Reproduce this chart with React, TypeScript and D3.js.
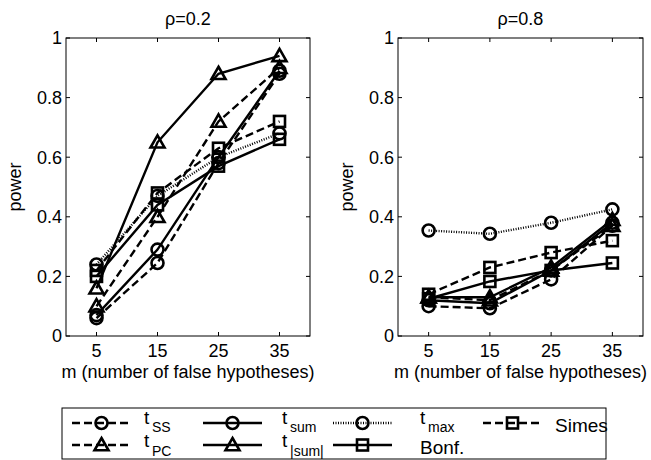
import React, { useRef, useEffect } from "react";
import * as d3 from "d3";

// m values on the x axis
const mValues = [5, 15, 25, 35];
const xTicks = [5, 15, 25, 35];
const yTicks = [0, 0.2, 0.4, 0.6, 0.8, 1];
const yTickLabels = ["0", "0.2", "0.4", "0.6", "0.8", "1"];
const panelTitles = ["ρ=0.2", "ρ=0.8"];

// power, rho = 0.2
const tSS02 = [0.06, 0.245, 0.58, 0.88];
const tPC02 = [0.1, 0.4, 0.72, 0.9];
const tSum02 = [0.07, 0.29, 0.6, 0.89];
const tAbsSum02 = [0.16, 0.65, 0.88, 0.94];
const tMax02 = [0.24, 0.47, 0.6, 0.68];
const bonf02 = [0.2, 0.44, 0.57, 0.66];
const simes02 = [0.22, 0.48, 0.63, 0.72];

// power, rho = 0.8
const tSS08 = [0.1, 0.093, 0.19, 0.37];
const tPC08 = [0.13, 0.12, 0.22, 0.37];
const tSum08 = [0.12, 0.11, 0.22, 0.38];
const tAbsSum08 = [0.13, 0.13, 0.23, 0.39];
const tMax08 = [0.354, 0.343, 0.38, 0.425];
const bonf08 = [0.125, 0.183, 0.22, 0.245];
const simes08 = [0.14, 0.23, 0.28, 0.32];

type Series = {
  t: string;
  sub: string;
  dash: string;
  marker: string;
  left: number[];
  right: number[];
};

const series: Series[] = [
  { t: "t", sub: "SS", dash: "8,4", marker: "circle", left: tSS02, right: tSS08 },
  { t: "t", sub: "PC", dash: "8,4", marker: "triangle", left: tPC02, right: tPC08 },
  { t: "t", sub: "sum", dash: "", marker: "circle", left: tSum02, right: tSum08 },
  { t: "t", sub: "|sum|", dash: "", marker: "triangle", left: tAbsSum02, right: tAbsSum08 },
  { t: "t", sub: "max", dash: "1,1.5", marker: "circle", left: tMax02, right: tMax08 },
  { t: "Bonf.", sub: "", dash: "", marker: "square", left: bonf02, right: bonf08 },
  { t: "Simes", sub: "", dash: "8,4", marker: "square", left: simes02, right: simes08 },
];

const FONT = "'Liberation Sans', Arial, Helvetica, sans-serif";

const drawMarker = (g: any, kind: string, x: number, y: number) => {
  if (kind === "circle") {
    g.append("circle").attr("cx", x).attr("cy", y).attr("r", 6)
      .attr("fill", "none").attr("stroke", "#000").attr("stroke-width", 2.6);
  } else if (kind === "square") {
    g.append("rect").attr("x", x - 5.5).attr("y", y - 5.5).attr("width", 11).attr("height", 11)
      .attr("fill", "none").attr("stroke", "#000").attr("stroke-width", 2.6);
  } else {
    const s = 7;
    g.append("path")
      .attr("d", `M${x},${y - s}L${x + s},${y + s * 0.75}L${x - s},${y + s * 0.75}Z`)
      .attr("fill", "none").attr("stroke", "#000").attr("stroke-width", 2.6);
  }
};

const App = () => {
  const ref = useRef<SVGSVGElement>(null);

  useEffect(() => {
    const svg = d3.select(ref.current);
    svg.selectAll("*").remove();

    const panels = [
      { left: 66, right: 310, key: "left" },
      { left: 398, right: 643, key: "right" },
    ];
    const top = 38;
    const bottom = 336;

    panels.forEach((p, pi) => {
      const x = d3.scaleLinear().domain([0, 40]).range([p.left, p.right]);
      const y = d3.scaleLinear().domain([0, 1]).range([bottom, top]);
      const g = svg.append("g");

      g.append("rect")
        .attr("x", p.left).attr("y", top)
        .attr("width", p.right - p.left).attr("height", bottom - top)
        .attr("fill", "#fff").attr("stroke", "#000").attr("stroke-width", 1);

      // inward ticks on all four sides
      xTicks.forEach((t) => {
        g.append("line").attr("x1", x(t)).attr("x2", x(t)).attr("y1", bottom).attr("y2", bottom - 4)
          .attr("stroke", "#000");
        g.append("line").attr("x1", x(t)).attr("x2", x(t)).attr("y1", top).attr("y2", top + 4)
          .attr("stroke", "#000");
        g.append("text").attr("x", x(t)).attr("y", 357).attr("text-anchor", "middle")
          .attr("font-family", FONT).attr("font-size", 18).text(String(t));
      });
      yTicks.forEach((t, i) => {
        g.append("line").attr("x1", p.left).attr("x2", p.left + 4).attr("y1", y(t)).attr("y2", y(t))
          .attr("stroke", "#000");
        g.append("line").attr("x1", p.right).attr("x2", p.right - 4).attr("y1", y(t)).attr("y2", y(t))
          .attr("stroke", "#000");
        g.append("text").attr("x", p.left - 4).attr("y", y(t)).attr("dy", "0.36em")
          .attr("text-anchor", "end").attr("font-family", FONT).attr("font-size", 18)
          .text(yTickLabels[i]);
      });

      g.append("text").attr("x", (p.left + p.right) / 2).attr("y", 25).attr("text-anchor", "middle")
        .attr("font-family", FONT).attr("font-size", 18).text(panelTitles[pi]);
      g.append("text").attr("x", (p.left + p.right) / 2).attr("y", 378).attr("text-anchor", "middle")
        .attr("font-family", FONT).attr("font-size", 18).text("m (number of false hypotheses)");
      g.append("text")
        .attr("transform", `translate(${p.left - 45},${(top + bottom) / 2}) rotate(-90)`)
        .attr("text-anchor", "middle").attr("font-family", FONT).attr("font-size", 18).text("power");

      const line = d3.line<number>().x((_, i) => x(mValues[i])).y((d) => y(d));
      series.forEach((s) => {
        const vals = p.key === "left" ? s.left : s.right;
        g.append("path").attr("d", line(vals)).attr("fill", "none").attr("stroke", "#000")
          .attr("stroke-width", 2.4).attr("stroke-dasharray", s.dash || null);
        vals.forEach((v, i) => drawMarker(g, s.marker, x(mValues[i]), y(v)));
      });
    });

    // legend
    const lg = svg.append("g");
    lg.append("rect").attr("x", 62).attr("y", 408).attr("width", 544).attr("height", 51)
      .attr("fill", "#fff").attr("stroke", "#000").attr("stroke-width", 1);
    const colSample = [72, 203, 333, 483];
    const colLabel = [144, 282, 420, 555];
    const rowY = [423, 445];
    series.forEach((s, i) => {
      const col = Math.floor(i / 2);
      const row = i % 2;
      const x0 = colSample[col];
      const yy = rowY[row];
      lg.append("line").attr("x1", x0).attr("x2", x0 + 59).attr("y1", yy).attr("y2", yy)
        .attr("stroke", "#000").attr("stroke-width", 2.4).attr("stroke-dasharray", s.dash || null);
      drawMarker(lg, s.marker, x0 + 29.5, yy);
      if (s.sub) {
        const tb = row === 0 ? 424 : 447;
        lg.append("text").attr("x", colLabel[col]).attr("y", tb)
          .attr("font-family", FONT).attr("font-size", 19).text(s.t);
        lg.append("text").attr("x", colLabel[col] + 8).attr("y", row === 0 ? 432 : 456)
          .attr("font-family", FONT).attr("font-size", 14).text(s.sub);
      } else {
        lg.append("text").attr("x", colLabel[col]).attr("y", row === 0 ? 432 : 454)
          .attr("font-family", FONT).attr("font-size", 19).text(s.t);
      }
    });
  }, []);

  return (
    <svg
      ref={ref}
      width={651}
      height={460}
      style={{ position: "absolute", left: 0, top: 0, background: "#fff" }}
    ></svg>
  );
};

export default App;
